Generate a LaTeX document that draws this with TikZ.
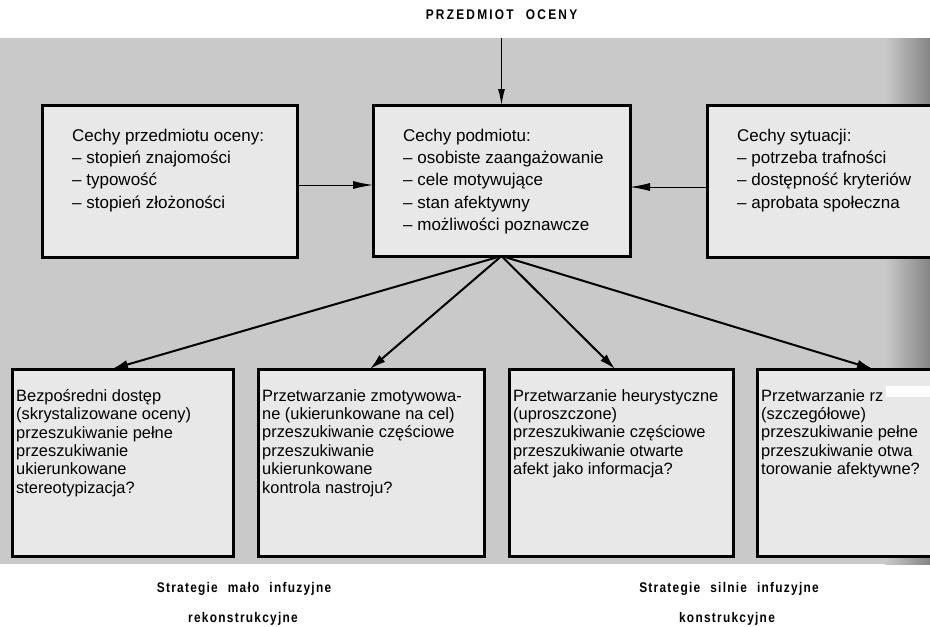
\documentclass[tikz,border=0pt]{standalone}
\usepackage{fontspec}
\setmainfont{Liberation Sans}
\newfontfamily\lblfont{Liberation Sans}[LetterSpace=9,FakeStretch=0.85,WordSpace=2.2]
\usetikzlibrary{arrows.meta}
\begin{document}
\begin{tikzpicture}[x=1pt,y=-1pt,
  box/.style={draw=black, line width=3pt, fill=black!9, inner sep=0pt, outer sep=0pt, anchor=north west},
  txt/.style={anchor=north west, inner sep=0pt, align=left, font=\fontsize{17}{22.2}\selectfont},
  btxt/.style={anchor=north west, inner sep=0pt, align=left, font=\fontsize{16.4}{18.4}\selectfont},
  thinarrow/.style={line width=1pt, -{Latex[length=20pt,width=8pt]}},
  thickarrow/.style={line width=2pt, -{Latex[length=16pt,width=9pt]}},
  lbl/.style={font=\lblfont\bfseries\fontsize{14}{16}\selectfont, inner sep=0pt}
]
\useasboundingbox (0,0) rectangle (930,627);
% background
\fill[black!21] (0,38) rectangle (930,564);
\shade[left color=black!21, right color=black!48] (885,38) rectangle (930,564);

% title
\node[lbl, font=\lblfont\bfseries\fontsize{14}{16}\selectfont\addfontfeature{LetterSpace=16}] (po) at (501.5,15) {PRZEDMIOT OCENY};
\coordinate (in) at (501.5,38);

% top boxes
\node[box, minimum width=255pt, minimum height=152pt] (l) at (42,105) {};
\node[box, minimum width=257pt, minimum height=151pt] (c) at (373,105) {};
\node[box, minimum width=240pt, minimum height=152pt] (r) at (707,105) {};

\node[txt] (lt) at (72,129) {Cechy przedmiotu oceny:\\– stopień znajomości\\– typowość\\– stopień złożoności};
\node[txt] (ct) at (403,129) {Cechy podmiotu:\\– osobiste zaangażowanie\\– cele motywujące\\– stan afektywny\\– możliwości poznawcze};
\node[txt] (rt) at (737,129) {Cechy sytuacji:\\– potrzeba trafności\\– dostępność kryteriów\\– aprobata społeczna};

% bottom boxes
\node[box, minimum width=221pt, minimum height=187pt] (b1) at (12,369) {};
\node[box, minimum width=226pt, minimum height=187pt] (b2) at (258,369) {};
\node[box, minimum width=224pt, minimum height=187pt] (b3) at (509,369) {};
\node[box, minimum width=190pt, minimum height=187pt] (b4) at (757,369) {};

\node[btxt] (t1) at (16,389) {Bezpośredni dostęp\\(skrystalizowane oceny)\\przeszukiwanie pełne\\przeszukiwanie\\ukierunkowane\\stereotypizacja?};
\node[btxt] (t2) at (262,389) {Przetwarzanie zmotywowa-\\ne (ukierunkowane na cel)\\przeszukiwanie częściowe\\przeszukiwanie\\ukierunkowane\\kontrola nastroju?};
\node[btxt] (t3) at (513,389) {Przetwarzanie heurystyczne\\(uproszczone)\\przeszukiwanie częściowe\\przeszukiwanie otwarte\\afekt jako informacja?};
\node[btxt] (t4) at (761,389) {Przetwarzanie rz\\(szczegółowe)\\przeszukiwanie pełne\\przeszukiwanie otwa\\torowanie afektywne?};
\fill[white] (886,386) rectangle (930,397);

% connectors
\draw[line width=1.2pt, -{Latex[length=16pt,width=7pt]}] (in) -- (c.north);
\draw[thinarrow] ([yshift=-4pt]l.east) -- ([yshift=-4pt]l.east -| c.west);
\draw[thinarrow] ([yshift=-6pt]r.west) -- ([yshift=-6pt]r.west -| c.east);
\draw[thickarrow] (c.south) -- ([xshift=100pt]b1.north west);
\draw[thickarrow] (c.south) -- ([xshift=112pt]b2.north west);
\draw[thickarrow] (c.south) -- ([xshift=106pt]b3.north west);
\draw[thickarrow] (c.south) -- ([xshift=116pt]b4.north west);

% bottom labels
\node[lbl] (s1) at (244,589) {Strategie mało infuzyjne};
\node[lbl] (s2) at (243,619) {rekonstrukcyjne};
\node[lbl] (s3) at (729,589) {Strategie silnie infuzyjne};
\node[lbl] (s4) at (727,619) {konstrukcyjne};
\end{tikzpicture}
\end{document}
